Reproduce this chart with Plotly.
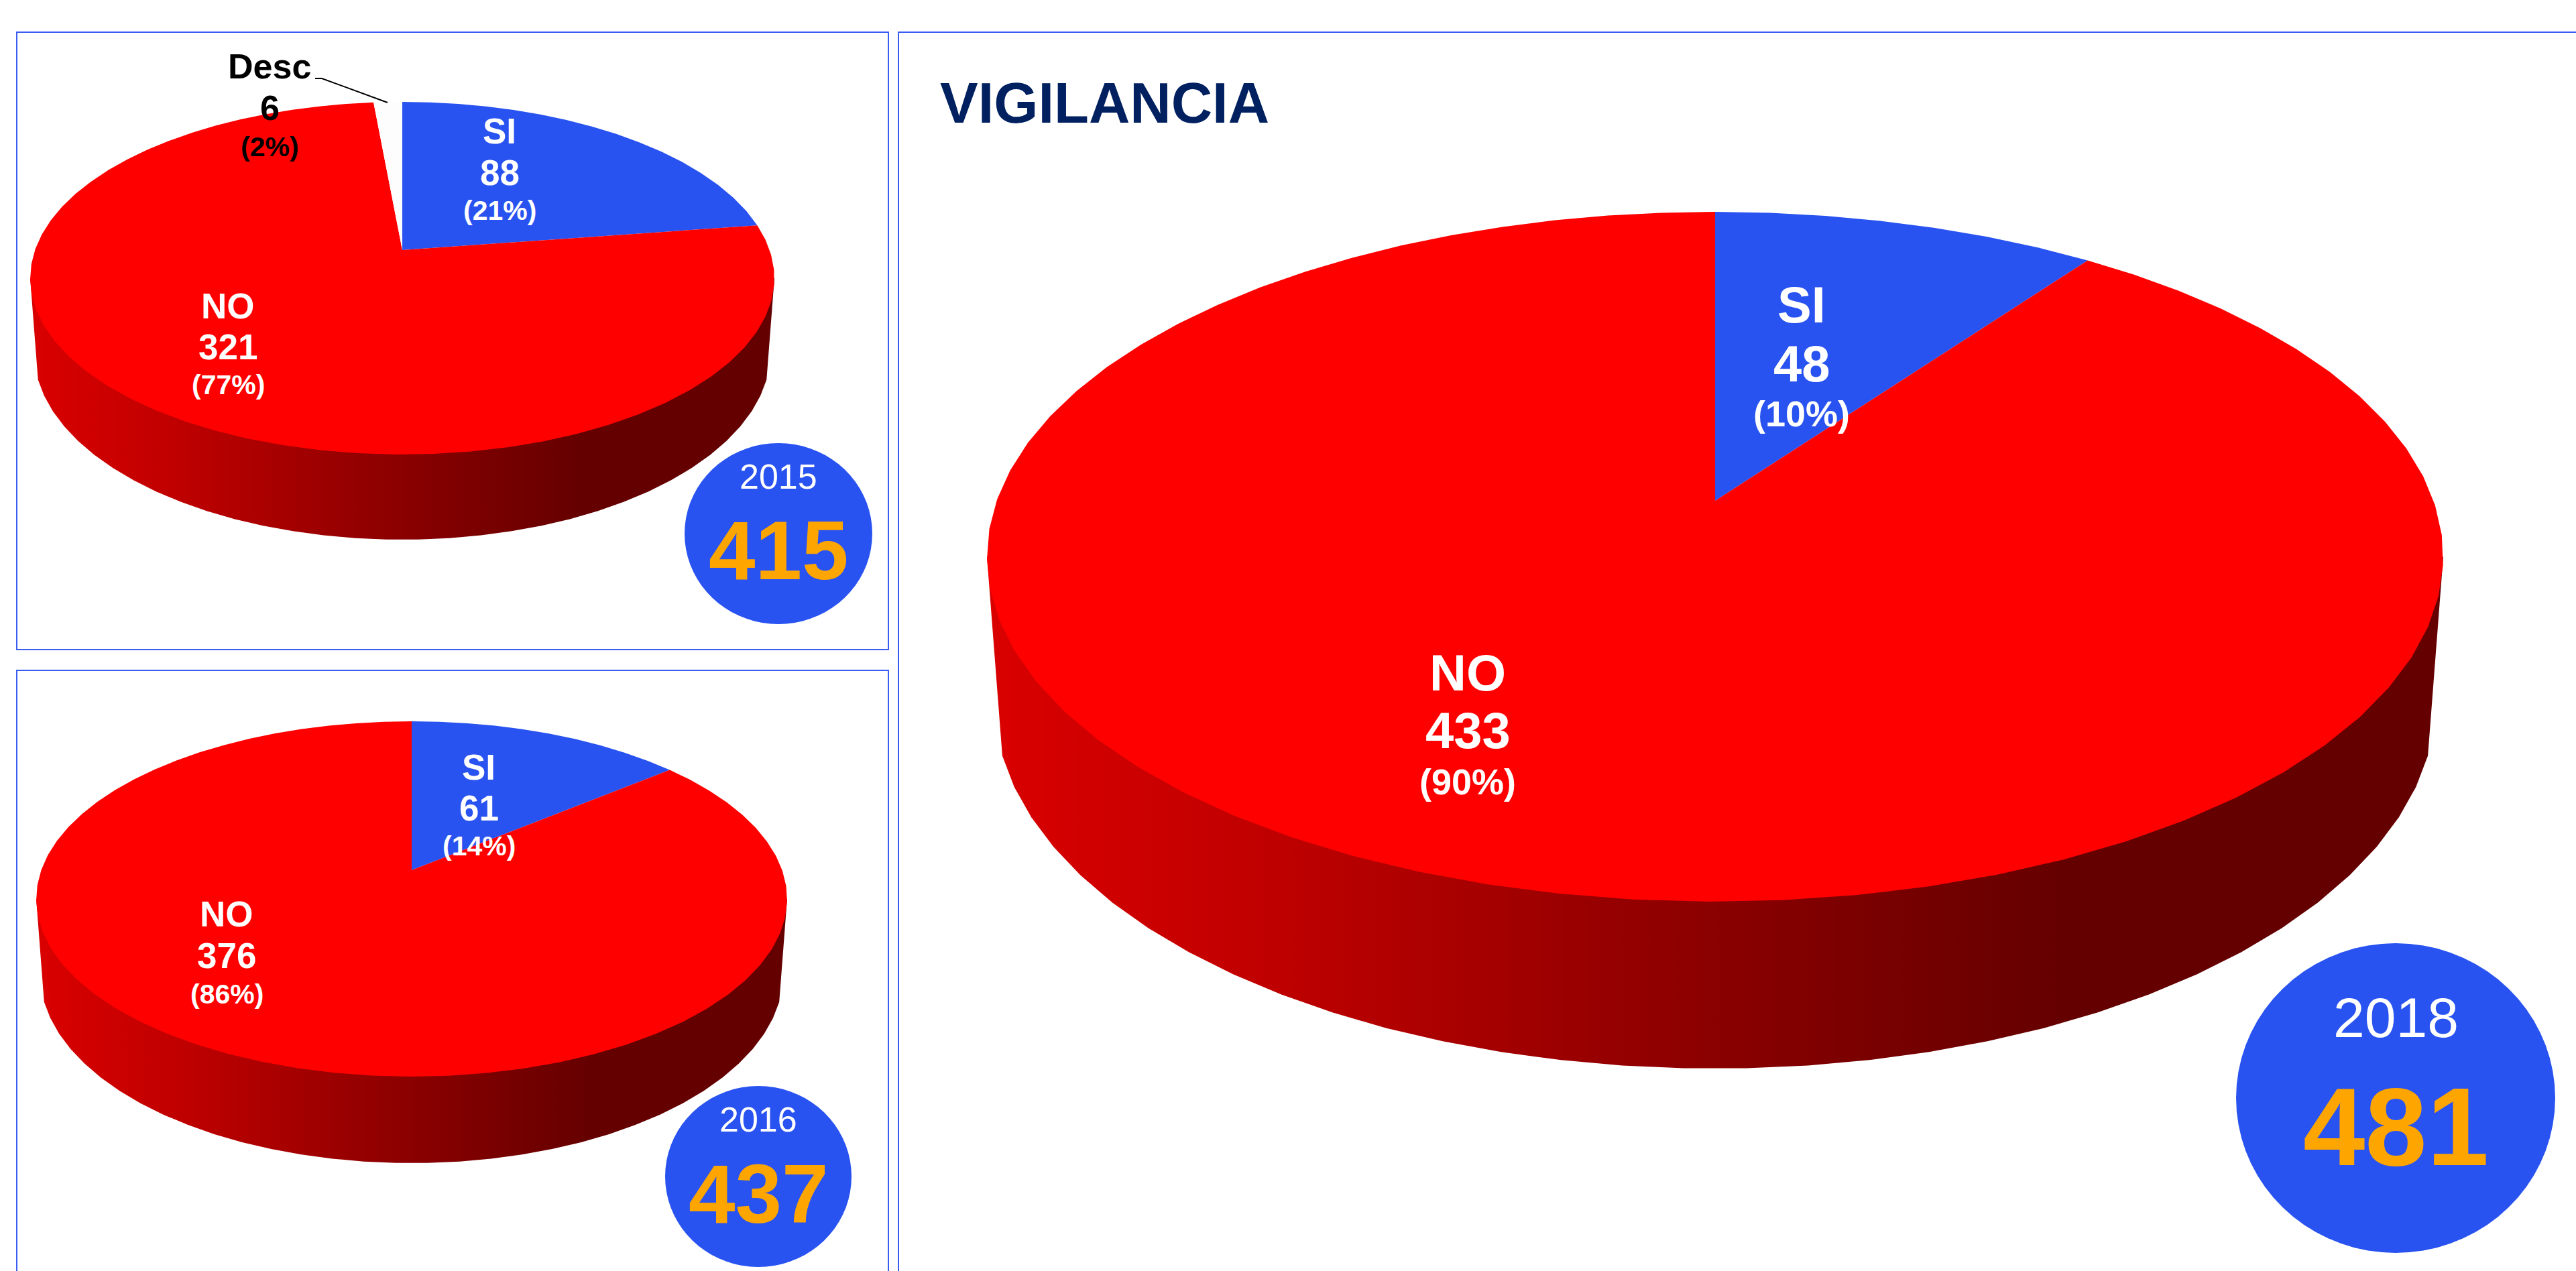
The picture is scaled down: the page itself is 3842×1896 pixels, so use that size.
import numpy as np
import plotly.graph_objects as go

# ---------- data ----------
years = [2015, 2016, 2018]
totals = [415, 437, 481]
si_values = [88, 61, 48]
no_values = [321, 376, 433]
desc_values = [6, 0, 0]
si_pct = [21, 14, 10]
no_pct = [77, 86, 90]
desc_pct = [2, None, None]
# Size of the wedge as drawn. 2015's blue wedge is visibly a little wider than its label.
si_drawn = [94, 61, 48]
no_drawn = [315, 376, 433]
title_text = "VIGILANCIA"

# ---------- colours ----------
BLUE = "#2953F0"
RED = "#FF0000"
ORANGE = "#FFA500"
NAVY = "#002060"
FRAME = "#3A5CF0"
WALL_SCALE = [
    [0, "rgb(218,0,0)"], [0.197, "rgb(191,0,0)"], [0.427, "rgb(150,0,0)"],
    [0.745, "rgb(100,0,0)"], [1, "rgb(100,0,0)"],
]

# ---------- layout geometry (pixels of the page) ----------
pies = [
    dict(cx=600, apex=373, top=152, bottom=678, rx=555, wall_bottom=805),
    dict(cx=614, apex=1298, top=1076, bottom=1606, rx=560, wall_bottom=1735),
    dict(cx=2558, apex=747, top=316, bottom=1345, rx=1086, wall_bottom=1594),
]
BASE_RX = 0.99      # base outline's half-width relative to the top ellipse
BASE_RY = 1.066     # base outline's half-height relative to the top ellipse
BASE_CUT = np.radians(8.6)  # where the straight side meets the base outline

badges = [
    dict(cx=1161, cy=796, rx=140, ry=135, year_y=711, total_y=820, year_size=52, total_size=125),
    dict(cx=1131, cy=1755, rx=139, ry=135, year_y=1670, total_y=1780, year_size=52, total_size=125),
    dict(cx=3573, cy=1638, rx=238, ry=231, year_y=1518, total_y=1680, year_size=84, total_size=166),
]
label_pos = [
    dict(si=(745, 195, 257, 314), no=(340, 456, 517, 574), size=53, pct=41),
    dict(si=(714, 1144, 1205, 1262), no=(338, 1363, 1425, 1483), size=53, pct=41),
    dict(si=(2687, 454, 542, 617), no=(2189, 1003, 1089, 1166), size=76, pct=54),
]
desc_pos = (402, 99, 161, 219)
FONT = "Liberation Sans, Arial, sans-serif"
FACETS = 72


def ellipse(cx, cy, rx, ry, a0=0.0, a1=2 * np.pi):
    n = max(2, int(round((a1 - a0) / (2 * np.pi) * FACETS)) + 1)
    t = np.linspace(a0, a1, n)
    return cx + rx * np.sin(t), cy - ry * np.cos(t)


def rim_projection(p):
    """Perspective map of the pie's circular top onto the page."""
    up, down = p["apex"] - p["top"], p["bottom"] - p["apex"]
    c = (down - up) / (down + up)
    a = up * (1 + c)
    d = p["rx"] * np.sqrt(1 - c * c)

    def project(theta):
        u, v = np.sin(theta), np.cos(theta)
        w = 1 + c * v
        return p["cx"] + d * u / w, p["apex"] - a * v / w

    return project


def poly(x, y, fill=None, **kw):
    return go.Scatter(
        x=list(x), y=list(y), mode="lines", line=dict(width=0), fill="toself",
        fillcolor=fill, hoverinfo="skip", showlegend=False, **kw,
    )


fig = go.Figure()

for i, p in enumerate(pies):
    cy = (p["top"] + p["bottom"]) / 2
    ry = (p["bottom"] - p["top"]) / 2
    rx2, ry2 = p["rx"] * BASE_RX, ry * BASE_RY
    cy2 = p["wall_bottom"] - ry2

    # side wall: straight sides from the top ellipse's extremes, then the base outline
    bx, by = ellipse(p["cx"], cy2, rx2, ry2, np.pi / 2 + BASE_CUT, 3 * np.pi / 2 - BASE_CUT)
    wx = [p["cx"] + p["rx"]] + list(bx) + [p["cx"] - p["rx"]]
    wy = [cy] + list(by) + [cy]
    fig.add_trace(go.Scatter(
        x=wx, y=wy, mode="lines", line=dict(width=0), fill="toself", hoverinfo="skip", showlegend=False,
        fillcolor="rgb(150,0,0)",
        fillgradient=dict(type="horizontal", colorscale=WALL_SCALE),
    ))

    # top face: wedges clockwise from twelve o'clock
    project = rim_projection(p)
    values = [si_drawn[i], no_drawn[i], desc_values[i]]
    colours = [BLUE, RED, "#FDFDFD"]
    total = sum(values)
    start = 0.0
    for value, colour in zip(values, colours):
        if value == 0:
            continue
        stop = start + value / total * 2 * np.pi
        n = max(2, int(round((stop - start) / (2 * np.pi) * FACETS)) + 1)
        rx_, ry_ = project(np.linspace(start, stop, n))
        fig.add_trace(poly([p["cx"]] + list(rx_) + [p["cx"]], [p["apex"]] + list(ry_) + [p["apex"]], colour))
        start = stop

    # badge
    b = badges[i]
    ex, ey = ellipse(b["cx"], b["cy"], b["rx"], b["ry"])
    fig.add_trace(poly(ex, ey, BLUE))

# leader line of the "Desc" label
fig.add_trace(go.Scatter(
    x=[470, 480, 578], y=[117, 117, 153], mode="lines", line=dict(color="black", width=2),
    hoverinfo="skip", showlegend=False,
))


def text(x, y, s, size, colour="white", bold=True, **kw):
    fig.add_annotation(
        x=x, y=y, xref="x", yref="y", text=f"<b>{s}</b>" if bold else s, showarrow=False,
        xanchor=kw.get("xanchor", "center"), yanchor="middle",
        font=dict(family=FONT, size=size, color=colour),
    )


for i, pos in enumerate(label_pos):
    sx, s1, s2, s3 = pos["si"]
    text(sx, s1, "SI", pos["size"])
    text(sx, s2, si_values[i], pos["size"])
    text(sx, s3, f"({si_pct[i]}%)", pos["pct"])
    nx, n1, n2, n3 = pos["no"]
    text(nx, n1, "NO", pos["size"])
    text(nx, n2, no_values[i], pos["size"])
    text(nx, n3, f"({no_pct[i]}%)", pos["pct"])
    b = badges[i]
    text(b["cx"], b["year_y"], years[i], b["year_size"], bold=False)
    text(b["cx"], b["total_y"], totals[i], b["total_size"], ORANGE)

dx, d1, d2, d3 = desc_pos
text(dx, d1, "Desc", 52, "black")
text(dx, d2, desc_values[0], 52, "black")
text(dx, d3, f"({desc_pct[0]}%)", 41, "black")
text(1400, 153, title_text, 85, NAVY, xanchor="left")

frames = [(25, 48, 1325, 969), (25, 1000, 1325, 1910), (1340, 48, 3860, 1910)]
shapes = [
    dict(type="rect", xref="x", yref="y", x0=a, y0=b, x1=c, y1=d, line=dict(color=FRAME, width=2), layer="below")
    for a, b, c, d in frames
]

fig.update_layout(
    width=3842, height=1896, autosize=False,
    margin=dict(l=0, r=0, t=0, b=0, pad=0),
    paper_bgcolor="white", plot_bgcolor="white", showlegend=False, shapes=shapes,
    xaxis=dict(range=[0, 3842], visible=False, fixedrange=True),
    yaxis=dict(range=[1896, 0], visible=False, fixedrange=True),
)
fig.write_html("out.html", post_script="document.body.style.margin='0';", config={"displayModeBar": False})
